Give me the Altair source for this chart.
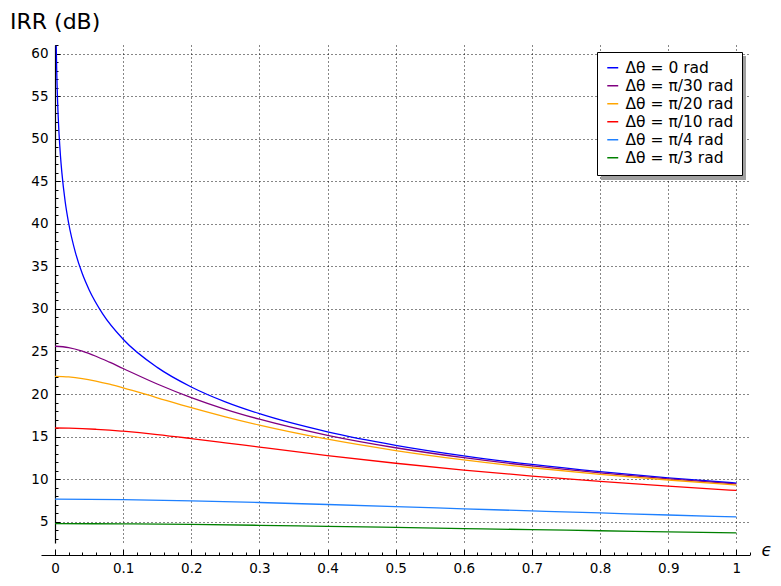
import altair as alt
import pandas as pd

# ---- data ----
series_names = [
    "Δθ = 0 rad",
    "Δθ = π/30 rad",
    "Δθ = π/20 rad",
    "Δθ = π/10 rad",
    "Δθ = π/4 rad",
    "Δθ = π/3 rad",
]
series_colors = ["#0000ff", "#800080", "#ffa500", "#ff0000", "#1e80ff", "#008000"]

eps_blue = [0.0018, 0.0025, 0.004, 0.006, 0.008, 0.01, 0.015, 0.02, 0.03, 0.04,
            0.05, 0.07, 0.1, 0.15, 0.2, 0.25, 0.3, 0.4, 0.5, 0.6, 0.7, 0.8, 0.9, 1.0]
irr_0 = [60.92, 58.07, 54.0, 50.48, 47.99, 46.06, 42.56, 40.09, 36.61, 34.15,
         32.26, 29.42, 26.44, 23.13, 20.83, 19.08, 17.69, 15.56, 13.98, 12.74,
         11.73, 10.88, 10.16, 9.54]

eps_mid = [0.0, 0.02, 0.04, 0.06, 0.08, 0.1, 0.15, 0.2, 0.25, 0.3, 0.4, 0.5,
           0.6, 0.7, 0.8, 0.9, 1.0]
irr_pi30 = [25.61, 25.46, 25.04, 24.44, 23.74, 23.00, 21.18, 19.58, 18.21, 17.04,
            15.15, 13.69, 12.52, 11.55, 10.74, 10.04, 9.44]
irr_pi20 = [22.08, 22.01, 21.82, 21.52, 21.15, 20.73, 19.56, 18.40, 17.32, 16.34,
            14.69, 13.36, 12.26, 11.34, 10.57, 9.90, 9.31]
irr_pi10 = [16.01, 15.99, 15.94, 15.86, 15.76, 15.63, 15.24, 14.77, 14.27, 13.76,
            12.77, 11.87, 11.07, 10.36, 9.73, 9.17, 8.67]

eps_flat = [0.0, 0.1, 0.2, 0.3, 0.4, 0.5, 0.6, 0.7, 0.8, 0.9, 1.0]
irr_pi4 = [7.66, 7.60, 7.46, 7.26, 7.02, 6.78, 6.52, 6.27, 6.03, 5.79, 5.57]
irr_pi3 = [4.77, 4.75, 4.68, 4.58, 4.46, 4.34, 4.20, 4.07, 3.94, 3.81, 3.68]

x_label_values = [0, 0.1, 0.2, 0.3, 0.4, 0.5, 0.6, 0.7, 0.8, 0.9, 1.0]
y_label_values = [5, 10, 15, 20, 25, 30, 35, 40, 45, 50, 55, 60]
x_tick_values = [round(i * 0.02, 2) for i in range(52)]
y_tick_values = list(range(3, 62))

# ---- build table ----
rows = []
for xs, ys, name in [
    (eps_blue, irr_0, series_names[0]),
    (eps_mid, irr_pi30, series_names[1]),
    (eps_mid, irr_pi20, series_names[2]),
    (eps_mid, irr_pi10, series_names[3]),
    (eps_flat, irr_pi4, series_names[4]),
    (eps_flat, irr_pi3, series_names[5]),
]:
    for x, y in zip(xs, ys):
        rows.append({"eps": x, "irr": y, "series": name})
df = pd.DataFrame(rows)

FONT = "DejaVu Sans"
W, H = 695, 498
XDOM = [0, 1.02]
YDOM = [2.5, 61]

xscale = alt.Scale(domain=XDOM, nice=False, zero=False)
yscale = alt.Scale(domain=YDOM, nice=False, zero=False)

# legend shadow
shadow = alt.Chart(alt.Data(values=[{"a": 1}])).mark_rect(color="#a0a0a0").encode(
    x=alt.value(546), x2=alt.value(691), y=alt.value(11), y2=alt.value(135)
)

# extended x axis line
xline = alt.Chart(alt.Data(values=[{"a": 1}])).mark_rule(color="black", strokeWidth=1.2).encode(
    x=alt.value(-13.5), x2=alt.value(W), y=alt.value(510.5)
)

grid_style = dict(gridColor="black", gridDash=[1, 3], gridOpacity=0.95, gridWidth=1)

lines = alt.Chart(df).mark_line(strokeWidth=1.3, interpolate="monotone", clip=True).encode(
    x=alt.X(
        "eps:Q",
        scale=xscale,
        axis=alt.Axis(
            orient="bottom",
            offset=12,
            values=x_label_values,
            domain=False,
            ticks=False,
            labelFont=FONT,
            labelFontSize=13.5,
            labelColor="black",
            labelPadding=6,
            labelFlush=False,
            labelExpr="datum.value == 0 ? '0' : datum.value == 1 ? '1' : format(datum.value, '.1f')",
            grid=True,
            **grid_style,
            title="ϵ",
            titleFont=FONT,
            titleFontSize=17,
            titleFontStyle="italic",
            titleFontWeight="normal",
            titleColor="black",
            titleAlign="left",
            titleBaseline="alphabetic",
            titleAngle=0,
            titleX=706,
            titleY=0,
        ),
    ),
    y=alt.Y(
        "irr:Q",
        scale=yscale,
        axis=alt.Axis(
            orient="left",
            values=y_label_values,
            domain=True,
            domainColor="black",
            domainWidth=1.2,
            ticks=False,
            labelFont=FONT,
            labelFontSize=13.5,
            labelColor="black",
            labelPadding=7,
            labelFlush=False,
            grid=True,
            **grid_style,
            title="IRR (dB)",
            titleFont=FONT,
            titleFontSize=22,
            titleFontWeight="normal",
            titleColor="black",
            titleAngle=0,
            titleAlign="left",
            titleBaseline="alphabetic",
            titleX=-45.5,
            titleY=-17,
        ),
    ),
    color=alt.Color(
        "series:N",
        sort=series_names,
        scale=alt.Scale(domain=series_names, range=series_colors),
        legend=alt.Legend(
            title=None,
            orient="none",
            legendX=542,
            legendY=7,
            strokeColor="black",
            fillColor="white",
            padding=8,
            cornerRadius=0,
            symbolType="stroke",
            symbolStrokeWidth=1.5,
            symbolSize=120,
            labelFont=FONT,
            labelFontSize=15.5,
            labelColor="black",
            labelOffset=5,
            rowPadding=1,
        ),
    ),
)

ticks = alt.Chart(df).mark_point(opacity=0).encode(
    x=alt.X(
        "eps:Q",
        scale=xscale,
        axis=alt.Axis(
            orient="top",
            offset=-510,
            values=x_tick_values,
            labels=False,
            domain=False,
            grid=False,
            title=None,
            tickColor="black",
            tickWidth=1,
            tickSize={"condition": {"test": "abs(datum.value*10 - round(datum.value*10)) < 0.001", "value": 6}, "value": 3},
        ),
    ),
    y=alt.Y(
        "irr:Q",
        scale=yscale,
        axis=alt.Axis(
            orient="right",
            offset=-W,
            values=y_tick_values,
            labels=False,
            domain=False,
            grid=False,
            title=None,
            tickColor="black",
            tickWidth=1,
            tickSize={"condition": {"test": "datum.value % 5 == 0", "value": 5}, "value": 3},
        ),
    ),
)

chart = (
    alt.layer(shadow, xline, lines, ticks)
    .resolve_axis(x="independent", y="independent")
    .properties(
        width=W,
        height=H,
        autosize=alt.AutoSizeParams(type="none"),
        padding={"left": 55, "top": 45, "right": 31, "bottom": 43},
        background="white",
    )
    .configure_view(stroke=None)
)

chart.save("out.html", embed_options={"renderer": "svg", "actions": False})
